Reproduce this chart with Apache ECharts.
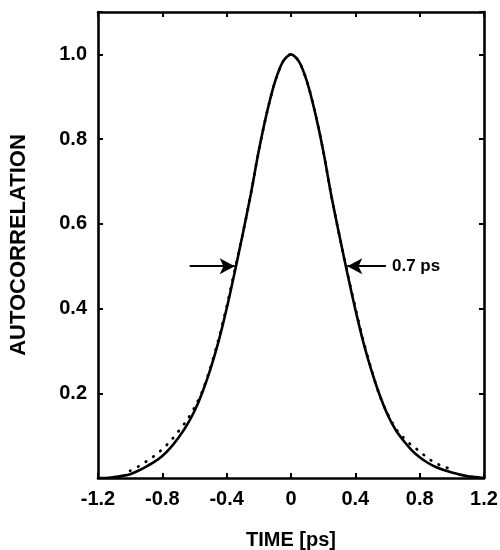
<!DOCTYPE html>
<html>
<head>
<meta charset="utf-8">
<script src="https://cdn.jsdelivr.net/npm/echarts@6/dist/echarts.min.js"></script>
<style>html,body{margin:0;padding:0;background:#fff}#c{width:500px;height:550px}</style>
</head>
<body>
<div id="c"></div>
<script>
// time axis values [ps]
var solidT = [-1.20,-1.15,-1.10,-1.05,-1.00,-0.95,-0.90,-0.85,-0.80,-0.75,-0.70,-0.65,-0.60,-0.55,-0.50,-0.45,-0.40,-0.35,-0.30,-0.25,-0.20,-0.15,-0.10,-0.05,0.00,
              0.05,0.10,0.15,0.20,0.25,0.30,0.35,0.40,0.45,0.50,0.55,0.60,0.65,0.70,0.75,0.80,0.85,0.90,0.95,1.00,1.05,1.10,1.15,1.20];
var solidV = [0.000,0.000,0.002,0.005,0.009,0.017,0.027,0.038,0.052,0.071,0.095,0.123,0.158,0.203,0.258,0.323,0.400,0.486,0.576,0.670,0.773,0.862,0.935,0.983,1.000,
              0.983,0.935,0.862,0.773,0.668,0.574,0.484,0.398,0.320,0.254,0.197,0.150,0.114,0.088,0.066,0.049,0.036,0.026,0.019,0.013,0.008,0.004,0.002,0.000];
var dotT = [-1.00,-0.95,-0.90,-0.85,-0.80,-0.75,-0.70,-0.65,-0.60,-0.55,-0.50,-0.45,-0.40,-0.35,-0.30,-0.25,-0.20,-0.15,-0.10,-0.05,0.00,
            0.05,0.10,0.15,0.20,0.25,0.30,0.35,0.40,0.45,0.50,0.55,0.60,0.65,0.70,0.75,0.80,0.85,0.90,0.95,1.00];
var dotV = [0.017,0.027,0.039,0.052,0.068,0.087,0.110,0.135,0.166,0.206,0.262,0.328,0.405,0.490,0.576,0.670,0.773,0.862,0.935,0.983,1.000,
            0.983,0.935,0.862,0.773,0.668,0.574,0.486,0.402,0.324,0.256,0.196,0.152,0.117,0.095,0.077,0.063,0.047,0.035,0.027,0.020];
// FWHM arrows (time, value)
var arrowLeft = [[-0.63,0.5],[-0.35,0.5]];
var arrowRight = [[0.59,0.5],[0.35,0.5]];
var fwhmLabel = '0.7 ps';
var fwhmLabelPos = [0.60,0.5];
var xTickLabels = {'-1.2':'-1.2','-0.8':'-0.8','-0.4':'-0.4','0':'0','0.4':'0.4','0.8':'0.8','1.2':'1.2'};
var yTickLabels = {'0.2':'0.2','0.4':'0.4','0.6':'0.6','0.8':'0.8','1':'1.0'};

function zip(a,b){var r=[];for(var i=0;i<a.length;i++)r.push([a[i],b[i]]);return r;}
var FONT='Liberation Sans, Arial, sans-serif';
var axLine={onZero:false,lineStyle:{color:'#000',width:2.6}};
var tick={inside:true,length:5,lineStyle:{color:'#000',width:2}};

var chart = echarts.init(document.getElementById('c'));
chart.setOption({
  animation:false,
  backgroundColor:'#fff',
  grid:{left:98,right:16,top:12,bottom:72,containLabel:false,outerBoundsMode:'none'},
  xAxis:[{
    type:'value',min:-1.2,max:1.2,interval:0.4,position:'bottom',
    axisLine:axLine,axisTick:tick,splitLine:{show:false},
    axisLabel:{margin:11,color:'#000',fontFamily:FONT,fontWeight:'bold',fontSize:20,
      formatter:function(v){var k=String(Math.round(v*10)/10);return xTickLabels[k]||'';}},
    name:'TIME [ps]',nameLocation:'middle',nameGap:52,
    nameTextStyle:{color:'#000',fontFamily:FONT,fontWeight:'bold',fontSize:20}
  },{
    type:'value',min:-1.2,max:1.2,interval:0.4,position:'top',
    axisLine:axLine,axisTick:tick,axisLabel:{show:false},splitLine:{show:false}
  }],
  yAxis:[{
    type:'value',min:0,max:1.1,interval:0.2,position:'left',
    axisLine:axLine,axisTick:tick,splitLine:{show:false},
    axisLabel:{margin:11,color:'#000',fontFamily:FONT,fontWeight:'bold',fontSize:20,
      formatter:function(v){var k=String(Math.round(v*10)/10);return yTickLabels[k]||'';}},
    name:'AUTOCORRELATION',nameLocation:'middle',nameGap:68,
    nameTextStyle:{color:'#000',fontFamily:FONT,fontWeight:'bold',fontSize:22}
  },{
    type:'value',min:0,max:1.1,interval:0.2,position:'right',
    axisLine:axLine,axisTick:tick,axisLabel:{show:false},splitLine:{show:false}
  }],
  series:[{
    type:'line',data:zip(dotT,dotV),showSymbol:false,smooth:0.3,
    lineStyle:{color:'#000',width:2.8,type:[0.5,8.5],cap:'round'},z:2
  },{
    type:'line',data:zip(solidT,solidV),showSymbol:false,smooth:0.3,
    lineStyle:{color:'#000',width:2.6},z:3
  },{
    type:'scatter',data:[fwhmLabelPos],symbolSize:1,itemStyle:{color:'rgba(0,0,0,0)'},
    label:{show:true,position:'right',distance:4,formatter:fwhmLabel,color:'#000',opacity:1,
      fontFamily:FONT,fontWeight:'bold',fontSize:17},
    markLine:{
      silent:true,symbol:['none','arrow'],symbolSize:[12,15],
      lineStyle:{color:'#000',width:2.2,type:'solid'},label:{show:false},
      data:[
        [{coord:arrowLeft[0]},{coord:arrowLeft[1]}],
        [{coord:arrowRight[0]},{coord:arrowRight[1]}]
      ]
    },z:4
  }]
});
</script>
</body>
</html>
